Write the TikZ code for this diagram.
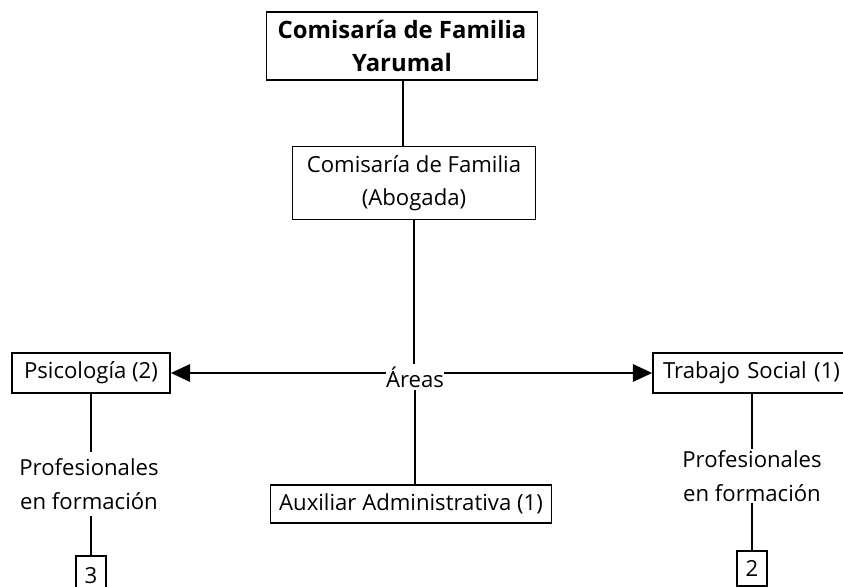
\documentclass[tikz,border=0pt]{standalone}
\usepackage{fontspec}
\setmainfont{Open Sans}
\usetikzlibrary{arrows.meta}

\tikzset{
  caja/.style={draw, line width=1pt, align=center, inner sep=0pt},
  nota/.style={align=center, inner sep=0pt},
  linea/.style={line width=1pt},
  flecha/.style={line width=1pt, -{Triangle[length=11pt,width=10pt]}}
}

\begin{document}
\begin{tikzpicture}[x=0.02cm, y=-0.02cm, font=\fontsize{12.6}{19}\selectfont]
        \clip (0,0) rectangle (843,587);
        \useasboundingbox (0,0) rectangle (843,587);
        % cajas
        \node [caja, minimum width=5.42cm, minimum height=1.36cm, font=\fontsize{13.6}{19}\selectfont\bfseries] (comisaria) at (402,46) {Comisaría de Familia\\Yarumal};
        \node [caja, minimum width=4.86cm, minimum height=1.46cm] (abogada) at (414,183) {Comisaría de Familia\\(Abogada)};
        \node [nota, minimum height=0.5cm] (areas) at (415,377) {Áreas};
        \node [caja, minimum width=3.16cm, minimum height=0.8cm] (psico) at (91,373) {Psicología (2)};
        \node [caja, minimum width=4cm, minimum height=0.8cm, text width=3.6cm, align=left] (trabajo) at (753,373) {Trabajo Social (1)};
        \node [caja, minimum width=5.62cm, minimum height=0.76cm] (auxiliar) at (411,504) {Auxiliar Administrativa (1)};
        \node [nota, minimum height=1.26cm] (formIzq) at (89,484) {Profesionales\\en formación};
        \node [nota, minimum height=1.06cm] (formDer) at (752,476) {Profesionales\\en formación};
        \node [caja, minimum width=0.6cm, minimum height=0.8cm, anchor=north] (tres) at (91,555) {3};
        \node [caja, minimum width=0.6cm, minimum height=0.7cm, anchor=north] (dos) at (752,550) {2};
        % conectores
        \draw [linea] (comisaria.south -| 403,0) -- (abogada.north -| 403,0);
        \draw [linea] (abogada.south) -- (abogada.south |- areas.north);
        \draw [flecha] (areas.west |- psico.east) -- (psico.east);
        \draw [flecha] (areas.east |- trabajo.west) -- (trabajo.west);
        \draw [linea] (areas.south) -- (areas.south |- auxiliar.north);
        \draw [linea] (psico.south) -- (psico.south |- formIzq.north);
        \draw [linea] (tres.north |- formIzq.south) -- (tres.north);
        \draw [linea] (formDer.north |- trabajo.south) -- (formDer.north);
        \draw [linea] (formDer.south) -- (dos.north);
    \end{tikzpicture}
\end{document}
